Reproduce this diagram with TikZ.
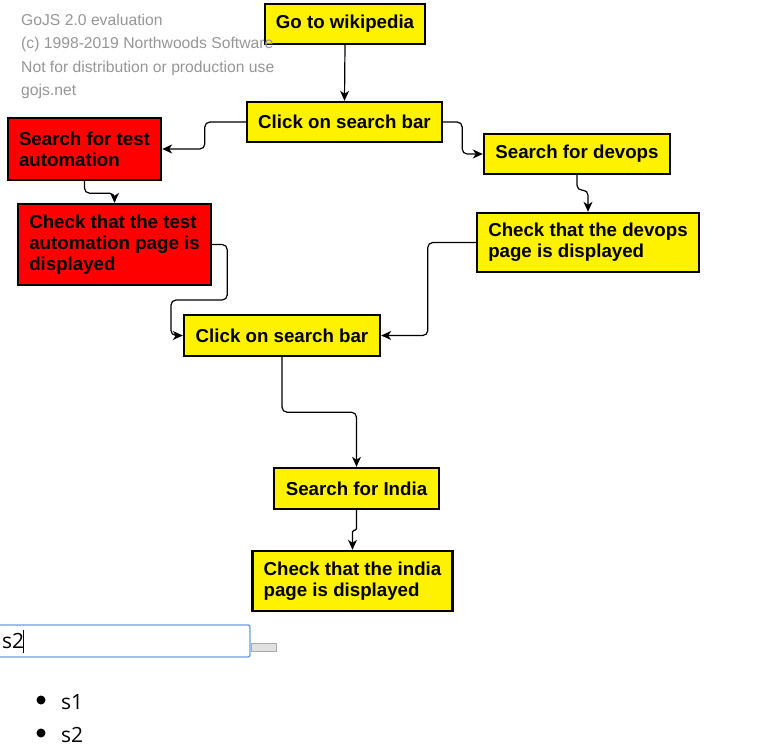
\documentclass[tikz,border=0pt]{standalone}
\usepackage{fontspec}
\setmainfont{Liberation Sans}
\newfontfamily\uifont{Open Sans}
\usetikzlibrary{arrows.meta}
\definecolor{wm}{RGB}{150,150,150}
\definecolor{inpblue}{RGB}{110,155,225}
\definecolor{btngray}{RGB}{225,225,225}
\definecolor{btnborder}{RGB}{170,170,170}
\tikzset{
  box/.style={draw=black, line width=2.4pt, font=\bfseries\fontsize{18.7}{21}\selectfont,
    align=left, inner sep=0pt, text=black},
  ybox/.style={box, fill=yellow},
  rbox/.style={box, fill=red},
  conn/.style={line width=1.2pt, rounded corners=5pt,
    -{Stealth[length=10pt,width=9pt,inset=3pt]}},
  wmtext/.style={text=wm, font=\fontsize{15.7}{18}\selectfont, anchor=base west, inner sep=0pt},
  uitext/.style={font=\uifont\fontsize{21}{24}\selectfont, anchor=base west, inner sep=0pt, text=black}
}
\begin{document}
\begin{tikzpicture}[x=1pt,y=-1pt]
\useasboundingbox (0,0) rectangle (777,753);
% nodes
\node[ybox, minimum width=160pt, minimum height=40pt] (go) at (345,24) {Go to wikipedia};
\node[ybox, minimum width=195pt, minimum height=40pt] (click1) at (344.5,122) {Click on search bar};
\node[rbox, minimum width=153pt, minimum height=62pt] (stest) at (84.5,149) {Search for test\\automation};
\node[rbox, minimum width=193pt, minimum height=81pt] (ctest) at (114.5,244.5) {Check that the test\\automation page is\\displayed};
\node[ybox, minimum width=186pt, minimum height=40pt] (sdev) at (577,154) {Search for devops};
\node[ybox, minimum width=222pt, minimum height=59pt] (cdev) at (588,242.5) {Check that the devops\\page is displayed};
\node[ybox, minimum width=196pt, minimum height=41pt] (click2) at (282,335.5) {Click on search bar};
\node[ybox, minimum width=165pt, minimum height=41pt] (sindia) at (356.5,488.5) {Search for India};
\node[ybox, minimum width=200pt, minimum height=60pt] (cindia) at (352.5,581) {Check that the india\\page is displayed};
% connectors
\draw[conn] (go.south) -- (click1.north);
\draw[conn] (click1.west) -- ++(-41,0) |- (stest.east);
\draw[conn] (click1.east) -- ++(19,0) |- (sdev.west);
\draw[conn] (sdev.south) -- ++(0,15) -| (cdev.north);
\draw[conn] (stest.south) -- ++(0,12) -| (ctest.north);
\draw[conn] (ctest.east) -- ++(15,0) |- (171,300) |- (click2.west);
\draw[conn] (cdev.west) -- ++(-48,0) |- (click2.east);
\draw[conn] (click2.south) -- ++(0,55) -| (sindia.north);
\draw[conn, rounded corners=1.5pt] (sindia.south) -- ++(0,20) -| (cindia.north);
% watermark
\node[wmtext] (w1) at (21,25) {GoJS 2.0 evaluation};
\node[wmtext] (w2) at (21,48.5) {(c) 1998-2019 Northwoods Software};
\node[wmtext] (w3) at (21,72) {Not for distribution or production use};
\node[wmtext] (w4) at (21,95.5) {gojs.net};
% input field
\draw[inpblue, line width=1.4pt, rounded corners=2pt] (-2,625) rectangle (250,657);
\node[uitext] (inp) at (2,648) {s2};
\draw[black, line width=0.8pt] (23.5,630) -- (23.5,653);
\draw[btnborder, fill=btngray, line width=0.8pt] (251,643) rectangle (276,651);
% list
\fill[black] (41,700) circle (4.5pt);
\fill[black] (41,733) circle (4.5pt);
\node[uitext] (l1) at (61,709) {s1};
\node[uitext] (l2) at (61,742) {s2};
\end{tikzpicture}
\end{document}
